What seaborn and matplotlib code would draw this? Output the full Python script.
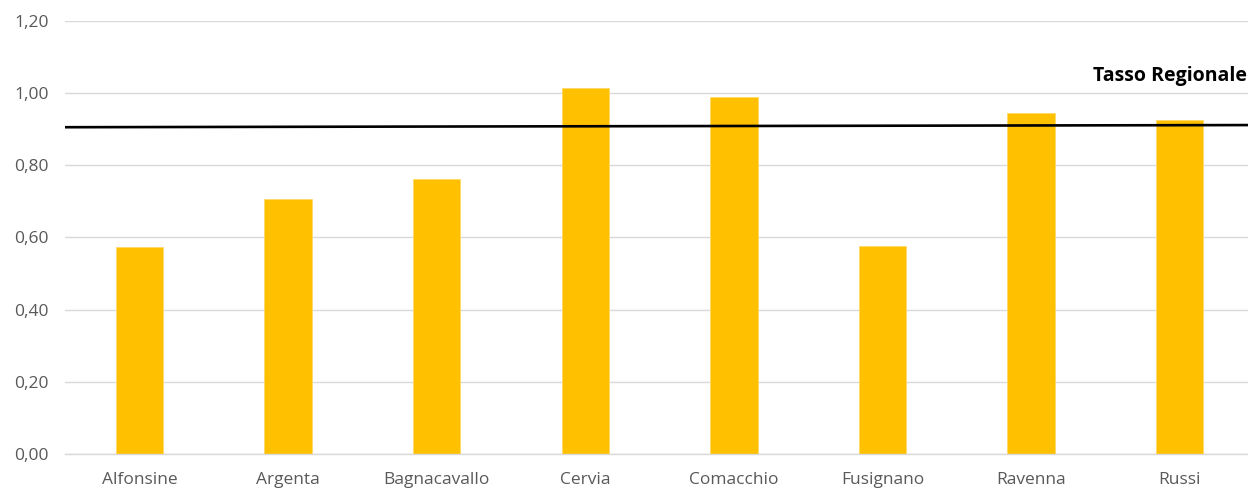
import matplotlib
matplotlib.use("Agg")
import matplotlib.pyplot as plt
import seaborn as sns
import pandas as pd
from matplotlib.ticker import FixedLocator, FuncFormatter

# Comuni and their rates
comuni = ["Alfonsine", "Argenta", "Bagnacavallo", "Cervia", "Comacchio",
          "Fusignano", "Ravenna", "Russi"]
tassi = [0.572, 0.706, 0.761, 1.015, 0.990, 0.576, 0.944, 0.925]

# Regional reference rate (start, end of the reference line)
tasso_regionale = [0.905, 0.911]
etichetta_regionale = "Tasso Regionale"

y_ticks = [0.0, 0.2, 0.4, 0.6, 0.8, 1.0, 1.2]

df = pd.DataFrame({"Comune": comuni, "Tasso": tassi})

sns.set_theme(style="white")
plt.rcParams["font.family"] = ["Open Sans", "DejaVu Sans"]

W, H = 1248, 491
left_px, right_px = 65.2, 1254.0
fig = plt.figure(figsize=(W / 100, H / 100), dpi=100)
ax = fig.add_axes([left_px / W, 1 - 454 / H, (right_px - left_px) / W, (454 - 20.7) / H])

sns.barplot(data=df, x="Comune", y="Tasso", color="#FFC000", width=0.32,
            saturation=1, edgecolor="#FFD966", linewidth=0.6, ax=ax, zorder=2)

ax.set_xlim(-0.5, len(comuni) - 0.5)
ax.set_ylim(0, 1.2)
ax.yaxis.set_major_locator(FixedLocator(y_ticks))
ax.yaxis.set_major_formatter(FuncFormatter(lambda v, p: f"{v:.2f}".replace(".", ",")))
ax.grid(axis="y", color="#D9D9D9", linewidth=1.0, zorder=0)
ax.set_axisbelow(True)

for s in ["top", "right", "left"]:
    ax.spines[s].set_visible(False)
ax.spines["bottom"].set_color("#D9D9D9")
ax.spines["bottom"].set_linewidth(1.0)

ax.tick_params(axis="both", length=0, labelsize=12.5, labelcolor="#595959")
ax.tick_params(axis="y", pad=12)
ax.tick_params(axis="x", pad=13)
ax.set_xlabel("")
ax.set_ylabel("")

# Regional reference line across the full width
ax.plot([-0.5, len(comuni) - 0.5], tasso_regionale, color="black",
        linewidth=1.9, zorder=3)

# Label at the top right corner, above the reference line
fig.text(1 - 1 / W, 1 - 76 / H, etichetta_regionale, ha="right", va="center",
         fontsize=14, fontweight="bold", color="black")

fig.savefig("out.png", dpi=100)
